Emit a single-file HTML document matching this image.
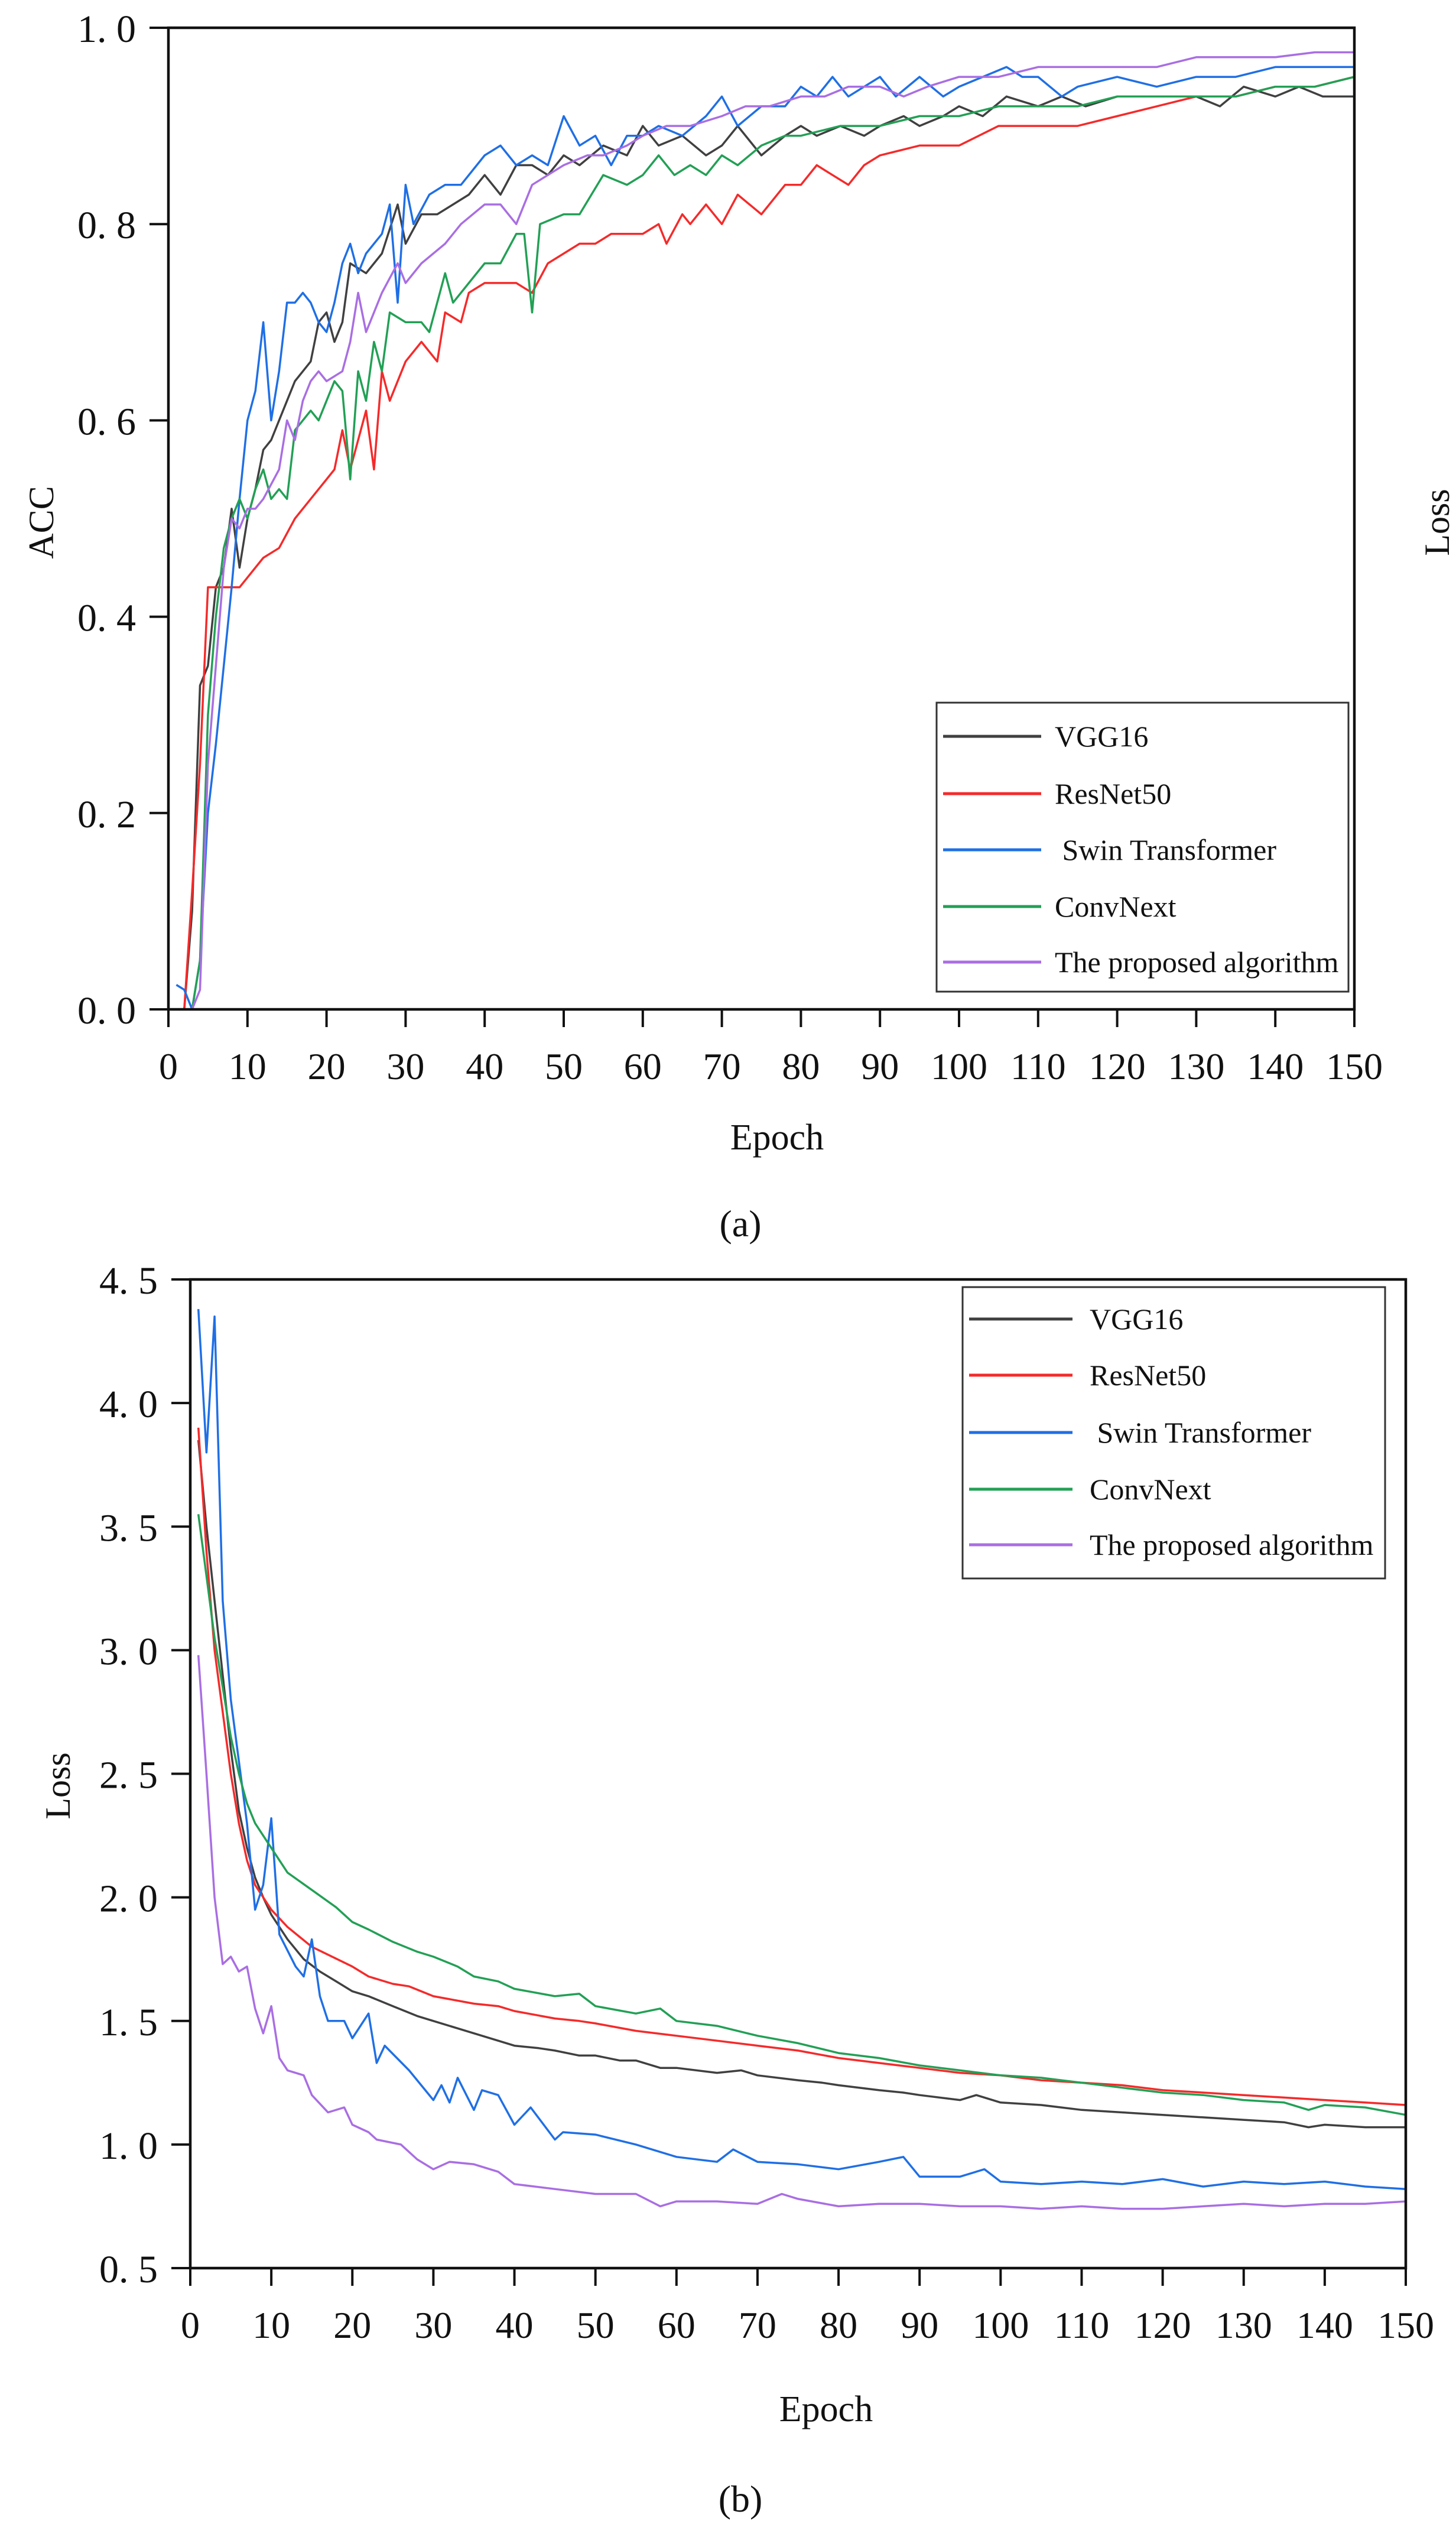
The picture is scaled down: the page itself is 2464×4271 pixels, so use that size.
<!DOCTYPE html>
<html><head><meta charset="utf-8">
<style>
html,body{margin:0;padding:0;background:#fff;}
svg{display:block;}
text{font-family:"Liberation Serif",serif;fill:#111;}
</style></head>
<body>
<svg id="fig" width="2464" height="4271" viewBox="0 0 2464 4271" xmlns="http://www.w3.org/2000/svg"></svg>
<script>
// ---------- data: chart (a) ACC ----------
const seriesNames = ["VGG16","ResNet50"," Swin Transformer","ConvNext","The proposed algorithm"];
const seriesColors = ["#404040","#f52a2a","#1f6fe5","#22a055","#a96ee3"];
const xTicks = [0,10,20,30,40,50,60,70,80,90,100,110,120,130,140,150];
const accTicks = [0,0.2,0.4,0.6,0.8,1.0];
const accTickLabels = ["0. 0","0. 2","0. 4","0. 6","0. 8","1. 0"];
const lossTicks = [0.5,1.0,1.5,2.0,2.5,3.0,3.5,4.0,4.5];
const lossTickLabels = ["0. 5","1. 0","1. 5","2. 0","2. 5","3. 0","3. 5","4. 0","4. 5"];

const accVggE = [1,2,3,4,5,6,7,8,9,10,11,12,13,14,15,16,17,18,19,20,21,22,23,25,27,29,30,32,34,36,38,40,42,44,46,48,50,52,55,58,60,62,65,68,70,72,75,78,80,82,85,88,90,93,95,98,100,103,106,110,113,116,120,125,130,133,136,140,143,146,150];
const accVggV = [0,0,0.1,0.33,0.35,0.43,0.45,0.51,0.45,0.5,0.53,0.57,0.58,0.6,0.62,0.64,0.65,0.66,0.7,0.71,0.68,0.7,0.76,0.75,0.77,0.82,0.78,0.81,0.81,0.82,0.83,0.85,0.83,0.86,0.86,0.85,0.87,0.86,0.88,0.87,0.9,0.88,0.89,0.87,0.88,0.9,0.87,0.89,0.9,0.89,0.9,0.89,0.9,0.91,0.9,0.91,0.92,0.91,0.93,0.92,0.93,0.92,0.93,0.93,0.93,0.92,0.94,0.93,0.94,0.93,0.93];
const accResE = [1,2,3,4,5,6,7,8,9,10,11,12,14,16,18,20,21,22,23,24,25,26,27,28,30,32,34,35,37,38,40,42,44,46,48,50,52,54,56,60,62,63,65,66,68,70,72,75,78,80,82,84,86,88,90,95,100,105,110,115,120,125,130,135,140,145,150];
const accResV = [0,0,0.12,0.25,0.43,0.43,0.43,0.43,0.43,0.44,0.45,0.46,0.47,0.5,0.52,0.54,0.55,0.59,0.55,0.58,0.61,0.55,0.65,0.62,0.66,0.68,0.66,0.71,0.7,0.73,0.74,0.74,0.74,0.73,0.76,0.77,0.78,0.78,0.79,0.79,0.8,0.78,0.81,0.8,0.82,0.8,0.83,0.81,0.84,0.84,0.86,0.85,0.84,0.86,0.87,0.88,0.88,0.9,0.9,0.9,0.91,0.92,0.93,0.93,0.94,0.94,0.95];
const accSwinE = [1,2,3,4,5,6,7,8,9,10,11,12,13,14,15,16,17,18,19,20,21,22,23,24,25,27,28,29,30,31,33,35,37,40,42,44,46,48,50,52,54,56,58,60,62,65,68,70,72,75,78,80,82,84,86,88,90,92,95,98,100,103,106,108,110,113,115,120,125,130,135,140,145,150];
const accSwinV = [0.025,0.02,0,0.05,0.2,0.27,0.35,0.43,0.52,0.6,0.63,0.7,0.6,0.65,0.72,0.72,0.73,0.72,0.7,0.69,0.72,0.76,0.78,0.75,0.77,0.79,0.82,0.72,0.84,0.8,0.83,0.84,0.84,0.87,0.88,0.86,0.87,0.86,0.91,0.88,0.89,0.86,0.89,0.89,0.9,0.89,0.91,0.93,0.9,0.92,0.92,0.94,0.93,0.95,0.93,0.94,0.95,0.93,0.95,0.93,0.94,0.95,0.96,0.95,0.95,0.93,0.94,0.95,0.94,0.95,0.95,0.96,0.96,0.96];
const accConvE = [1,3,4,5,6,7,8,9,10,11,12,13,14,15,16,17,18,19,20,21,22,23,24,25,26,27,28,30,32,33,35,36,38,40,42,44,45,46,47,50,52,55,58,60,62,64,66,68,70,72,75,78,80,85,90,95,100,105,110,115,120,125,130,135,140,145,150];
const accConvV = [0,0,0.05,0.3,0.4,0.47,0.5,0.52,0.5,0.53,0.55,0.52,0.53,0.52,0.59,0.6,0.61,0.6,0.62,0.64,0.63,0.54,0.65,0.62,0.68,0.65,0.71,0.7,0.7,0.69,0.75,0.72,0.74,0.76,0.76,0.79,0.79,0.71,0.8,0.81,0.81,0.85,0.84,0.85,0.87,0.85,0.86,0.85,0.87,0.86,0.88,0.89,0.89,0.9,0.9,0.91,0.91,0.92,0.92,0.92,0.93,0.93,0.93,0.93,0.94,0.94,0.95];
const accPropE = [1,3,4,5,6,7,8,9,10,11,12,14,15,16,17,18,19,20,22,23,24,25,27,29,30,32,35,37,40,42,44,46,48,50,53,55,58,60,63,66,70,73,76,80,83,86,90,93,96,100,105,110,115,120,125,130,135,140,145,150];
const accPropV = [0,0,0.02,0.25,0.35,0.45,0.5,0.49,0.51,0.51,0.52,0.55,0.6,0.58,0.62,0.64,0.65,0.64,0.65,0.68,0.73,0.69,0.73,0.76,0.74,0.76,0.78,0.8,0.82,0.82,0.8,0.84,0.85,0.86,0.87,0.87,0.88,0.89,0.9,0.9,0.91,0.92,0.92,0.93,0.93,0.94,0.94,0.93,0.94,0.95,0.95,0.96,0.96,0.96,0.96,0.97,0.97,0.97,0.975,0.975];

// ---------- data: chart (b) Loss ----------
const lossVggE = [1,2,3,4,5,6,7,8,9,10,12,14,16,18,20,22,25,28,30,33,35,38,40,43,45,48,50,53,55,58,60,65,68,70,75,78,80,85,88,90,95,97,100,105,110,115,120,125,130,135,138,140,145,150];
const lossVggV = [3.85,3.5,3.2,2.9,2.6,2.35,2.2,2.08,2.0,1.93,1.83,1.75,1.7,1.66,1.62,1.6,1.56,1.52,1.5,1.47,1.45,1.42,1.4,1.39,1.38,1.36,1.36,1.34,1.34,1.31,1.31,1.29,1.3,1.28,1.26,1.25,1.24,1.22,1.21,1.2,1.18,1.2,1.17,1.16,1.14,1.13,1.12,1.11,1.1,1.09,1.07,1.08,1.07,1.07];
const lossResE = [1,2,3,4,5,6,7,8,10,12,15,20,22,25,27,30,35,38,40,45,48,50,55,60,65,70,75,80,85,90,95,100,105,110,115,120,125,130,135,140,145,150];
const lossResV = [3.9,3.4,3.0,2.75,2.5,2.3,2.15,2.05,1.95,1.88,1.8,1.72,1.68,1.65,1.64,1.6,1.57,1.56,1.54,1.51,1.5,1.49,1.46,1.44,1.42,1.4,1.38,1.35,1.33,1.31,1.29,1.28,1.26,1.25,1.24,1.22,1.21,1.2,1.19,1.18,1.17,1.16];
const lossConvE = [1,2,3,4,5,6,7,8,10,12,15,18,20,22,25,28,30,33,35,38,40,45,48,50,55,58,60,65,70,75,80,85,90,95,100,105,110,115,120,125,130,135,138,140,145,150];
const lossConvV = [3.55,3.3,3.05,2.85,2.65,2.5,2.38,2.3,2.2,2.1,2.03,1.96,1.9,1.87,1.82,1.78,1.76,1.72,1.68,1.66,1.63,1.6,1.61,1.56,1.53,1.55,1.5,1.48,1.44,1.41,1.37,1.35,1.32,1.3,1.28,1.27,1.25,1.23,1.21,1.2,1.18,1.17,1.14,1.16,1.15,1.12];
const lossSwinE = [1,2,3,4,5,6,7,8,9,10,11,13,14,15,16,17,19,20,22,23,24,27,30,31,32,33,35,36,38,40,42,45,46,50,55,60,65,67,70,75,80,85,88,90,95,98,100,105,110,115,120,125,130,135,140,145,150];
const lossSwinV = [4.38,3.8,4.35,3.2,2.8,2.55,2.3,1.95,2.05,2.32,1.85,1.72,1.68,1.83,1.6,1.5,1.5,1.43,1.53,1.33,1.4,1.3,1.18,1.24,1.17,1.27,1.14,1.22,1.2,1.08,1.15,1.02,1.05,1.04,1.0,0.95,0.93,0.98,0.93,0.92,0.9,0.93,0.95,0.87,0.87,0.9,0.85,0.84,0.85,0.84,0.86,0.83,0.85,0.84,0.85,0.83,0.82];
const lossPropE = [1,2,3,4,5,6,7,8,9,10,11,12,14,15,17,19,20,22,23,26,28,30,32,35,38,40,45,50,55,58,60,65,70,73,75,80,85,90,95,100,105,110,115,120,125,130,135,140,145,150];
const lossPropV = [2.98,2.5,2.0,1.73,1.76,1.7,1.72,1.55,1.45,1.56,1.35,1.3,1.28,1.2,1.13,1.15,1.08,1.05,1.02,1.0,0.94,0.9,0.93,0.92,0.89,0.84,0.82,0.8,0.8,0.75,0.77,0.77,0.76,0.8,0.78,0.75,0.76,0.76,0.75,0.75,0.74,0.75,0.74,0.74,0.75,0.76,0.75,0.76,0.76,0.77];

const accE = [accVggE,accResE,accSwinE,accConvE,accPropE];
const accV = [accVggV,accResV,accSwinV,accConvV,accPropV];
const lossE = [lossVggE,lossResE,lossSwinE,lossConvE,lossPropE];
const lossV = [lossVggV,lossResV,lossSwinV,lossConvV,lossPropV];
const seriesKeys = ["vgg16","resnet50","swin-transformer","convnext","proposed-algorithm"];

const NS = "http://www.w3.org/2000/svg";
const svg = document.getElementById('fig');
function mk(tag, attrs, parent, txt){
  const e = document.createElementNS(NS, tag);
  for (const k in attrs) e.setAttribute(k, attrs[k]);
  if (txt !== undefined) e.textContent = txt;
  (parent||svg).appendChild(e);
  return e;
}

function drawChart(cfg){
  const g = mk('g', {});
  
  
  const xs = v => cfg.x0 + (v - 0) / 150 * (cfg.x1 - cfg.x0);
  const ys = v => cfg.yb - (v - cfg.ymin) / (cfg.ymax - cfg.ymin) * (cfg.yb - cfg.yt);
  // series
  for (let s = 0; s < 5; s++){
    const E = cfg.E[s], V = cfg.V[s];
    let d = '';
    for (let i = 0; i < E.length; i++) d += (i ? 'L' : 'M') + xs(E[i]).toFixed(1) + ' ' + ys(V[i]).toFixed(1);
    const p = mk('path', {d: d, fill: 'none', stroke: seriesColors[s], 'stroke-width': 3.5, 'stroke-linejoin': 'round'}, g);
    
    
  }
  // frame
  const fr = mk('rect', {x: cfg.x0, y: cfg.yt, width: cfg.x1 - cfg.x0, height: cfg.yb - cfg.yt, fill: 'none', stroke: '#111', 'stroke-width': 4.5}, g);
  
  
  // x ticks
  for (let i = 0; i < xTicks.length; i++){
    const x = xs(xTicks[i]);
    const t = mk('line', {x1: x, x2: x, y1: cfg.yb, y2: cfg.yb + 30, stroke: '#111', 'stroke-width': 4}, g);
    
    
    const l = mk('text', {x: x, y: cfg.yb + 118, 'text-anchor': 'middle', 'font-size': 64}, g, String(xTicks[i]));
    
    
  }
  // y ticks
  for (let i = 0; i < cfg.ticks.length; i++){
    const y = ys(cfg.ticks[i]);
    const t = mk('line', {x1: cfg.x0 - 32, x2: cfg.x0, y1: y, y2: y, stroke: '#111', 'stroke-width': 4}, g);
    
    
    const l = mk('text', {x: cfg.x0 - 55, y: y + 24, 'text-anchor': 'end', 'font-size': 66}, g, cfg.labels[i]);
    
    
  }
  // axis titles
  const xt = mk('text', {x: cfg.xtX, y: cfg.xtY, 'text-anchor': 'middle', 'font-size': 62}, g, 'Epoch');
  
  
  const yt = mk('text', {x: 0, y: 0, 'text-anchor': 'middle', 'font-size': 60, transform: 'translate(' + cfg.ytX + ',' + cfg.ytY + ') rotate(-90)'}, g, cfg.ytitle);
  
  
  // legend
  const lg = mk('g', {}, g);
  
  
  const box = mk('rect', {x: cfg.lx0, y: cfg.ly0, width: cfg.lx1 - cfg.lx0, height: cfg.ly1 - cfg.ly0, fill: '#fff', stroke: '#333', 'stroke-width': 3}, lg);
  
  
  for (let s = 0; s < 5; s++){
    const y = cfg.ly[s];
    const ln = mk('line', {x1: cfg.lineX0, x2: cfg.lineX1, y1: y, y2: y, stroke: seriesColors[s], 'stroke-width': 5}, lg);
    
    
    const tx = mk('text', {x: cfg.textX, y: y + 17, 'font-size': 50, 'xml:space': 'preserve', style: 'white-space:pre'}, lg, seriesNames[s]);
    
    
  }
}

drawChart({name: 'acc-chart', x0: 285, x1: 2292, yt: 47, yb: 1708, ymin: 0, ymax: 1, ticks: accTicks, labels: accTickLabels,
  E: accE, V: accV, xtX: 1315, xtY: 1945, ytX: 90, ytY: 884, ytitle: 'ACC',
  lx0: 1585, lx1: 2282, ly0: 1189, ly1: 1678, ly: [1246, 1343, 1438, 1534, 1628], lineX0: 1596, lineX1: 1762, textX: 1785});

drawChart({name: 'loss-chart', x0: 322, x1: 2379, yt: 2165, yb: 3838, ymin: 0.5, ymax: 4.5, ticks: lossTicks, labels: lossTickLabels,
  E: lossE, V: lossV, xtX: 1398, xtY: 4097, ytX: 118, ytY: 3022, ytitle: 'Loss',
  lx0: 1629, lx1: 2344, ly0: 2178, ly1: 2671, ly: [2232, 2327, 2424, 2520, 2614], lineX0: 1640, lineX1: 1815, textX: 1844});

const lossSide = mk('text', {x: 0, y: 0, 'text-anchor': 'middle', 'font-size': 60, transform: 'translate(2452,884) rotate(-90)'}, svg, 'Loss');


const capA = mk('text', {x: 1253, y: 2092, 'text-anchor': 'middle', 'font-size': 64}, svg, '(a)');


const capB = mk('text', {x: 1253, y: 4250, 'text-anchor': 'middle', 'font-size': 64}, svg, '(b)');


</script>
</body></html>
